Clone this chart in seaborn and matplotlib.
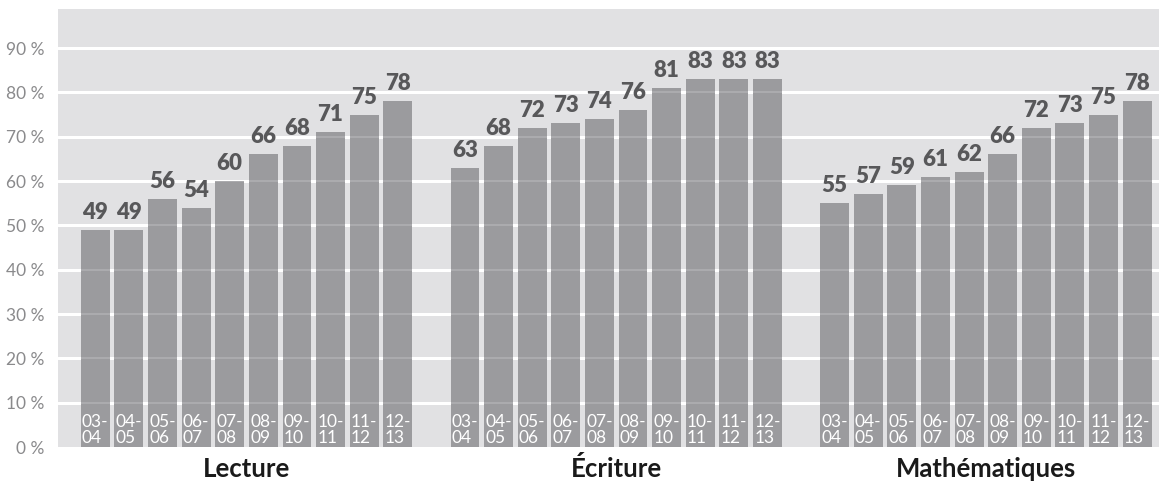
import matplotlib
matplotlib.use("Agg")
import matplotlib.pyplot as plt
import matplotlib.transforms as mtransforms
import seaborn as sns
import numpy as np
import pandas as pd

# ---------------------------------------------------------------------------
# data
# ---------------------------------------------------------------------------
subjects = ["Lecture", "Écriture", "Mathématiques"]
years = ["03-\n04", "04-\n05", "05-\n06", "06-\n07", "07-\n08",
         "08-\n09", "09-\n10", "10-\n11", "11-\n12", "12-\n13"]
lecture = [49, 49, 56, 54, 60, 66, 68, 71, 75, 78]
ecriture = [63, 68, 72, 73, 74, 76, 81, 83, 83, 83]
maths = [55, 57, 59, 61, 62, 66, 72, 73, 75, 78]
y_ticks = [0, 10, 20, 30, 40, 50, 60, 70, 80, 90]

BG = "#e1e1e3"
BAR = "#9b9b9e"
DARK = "#58585a"
TICK = "#8a8a8c"

rows = []
for g, (subj, vals) in enumerate(zip(subjects, [lecture, ecriture, maths])):
    for i, (yr, v) in enumerate(zip(years, vals)):
        rows.append({"subject": subj, "year": yr, "value": v,
                     "slot": g * (len(years) + 1) + i})
df = pd.DataFrame(rows)

sns.set_theme(style="white")
plt.rcParams["font.family"] = ["Lato", "DejaVu Sans"]

fig = plt.figure(figsize=(11.59, 4.84), dpi=100)
ax = fig.add_axes([58 / 1159, 37 / 484, 1 - 58 / 1159, 438 / 484])
ax.set_facecolor(BG)

sns.barplot(data=df, x="slot", y="value", native_scale=True, color=BAR,
            width=0.86, saturation=1, errorbar=None, ax=ax, zorder=2,
            linewidth=0, edgecolor=BAR)

ax.set_xlim(-1.11, 31.65)
ax.set_ylim(0, 98.8)
ax.set_yticks(y_ticks)
ax.set_yticklabels([f"{t} %" for t in y_ticks], color=TICK, fontsize=12.5)
ax.tick_params(axis="y", length=0, pad=10)
ax.set_xticks([])
ax.set_xlabel("")
ax.set_ylabel("")
for s in ax.spines.values():
    s.set_visible(False)

# white grid behind bars, faint grid over bars
for t in y_ticks[1:]:
    ax.axhline(t, color="white", lw=2.2, zorder=1)
    ax.axhline(t, color="white", lw=1.2, alpha=0.2, zorder=3)

for _, r in df.iterrows():
    ax.annotate(f"{r['value']}", (r["slot"], r["value"]),
                xytext=(0, 5), textcoords="offset points",
                ha="center", va="bottom", fontsize=16,
                fontweight="heavy", color=DARK, zorder=4)
    ax.annotate(r["year"], (r["slot"], 0), xytext=(0, 1),
                textcoords="offset points", ha="center", va="bottom",
                multialignment="left", fontsize=12.5, color="white",
                linespacing=1.0, zorder=4)

trans = mtransforms.blended_transform_factory(ax.transData, ax.transAxes)
for g, subj in enumerate(subjects):
    cx = df.loc[df["subject"] == subj, "slot"].mean()
    ax.text(cx, -0.05, subj, transform=trans, ha="center", va="center",
            fontsize=18.5, fontweight="bold", color="#1a1a1a")

fig.savefig("out.png", dpi=100)
